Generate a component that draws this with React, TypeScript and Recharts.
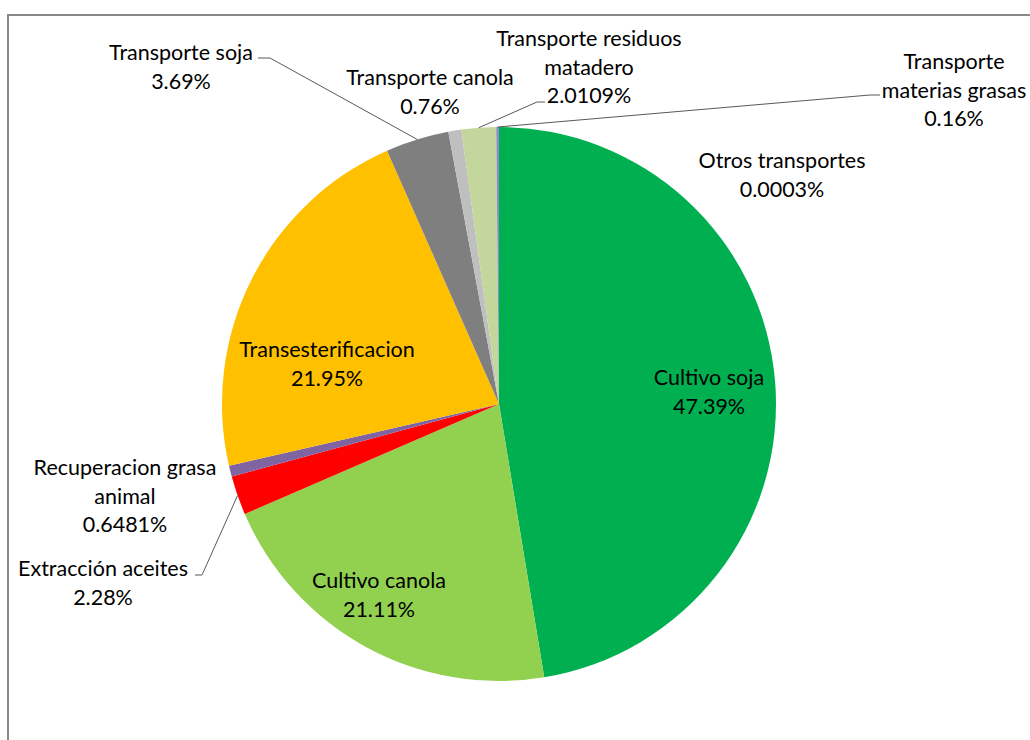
import { PieChart, Pie, Cell } from "recharts";

// slice names, clockwise from 12 o'clock
const names = [
  "Cultivo soja",
  "Cultivo canola",
  "Extracción aceites",
  "Recuperacion grasa animal",
  "Transesterificacion",
  "Transporte soja",
  "Transporte canola",
  "Transporte residuos matadero",
  "Transporte materias grasas",
  "Otros transportes",
];
const shares = [47.39, 21.11, 2.28, 0.6481, 21.95, 3.69, 0.76, 2.0109, 0.16, 0.0003];
const shareLabels = [
  "47.39%",
  "21.11%",
  "2.28%",
  "0.6481%",
  "21.95%",
  "3.69%",
  "0.76%",
  "2.0109%",
  "0.16%",
  "0.0003%",
];
// how each name is broken over lines in the label
const nameLines = [
  ["Cultivo soja"],
  ["Cultivo canola"],
  ["Extracción aceites"],
  ["Recuperacion grasa", "animal"],
  ["Transesterificacion"],
  ["Transporte soja"],
  ["Transporte canola"],
  ["Transporte residuos", "matadero"],
  ["Transporte", "materias grasas"],
  ["Otros transportes"],
];

const colors = [
  "#00B050",
  "#92D050",
  "#FF0000",
  "#8064A2",
  "#FFC000",
  "#7F7F7F",
  "#BFBFBF",
  "#C3D69B",
  "#8E8CC8",
  "#4F81BD",
];

const data = names.map((name, i) => ({
  name,
  value: shares[i],
  pct: shareLabels[i],
  lines: nameLines[i],
}));

// label placement relative to pie centre: text centre x, first line y, optional leader elbow
const placement: Record<
  string,
  { x: number; y: number; elbow?: [number, number, number] }
> = {
  "Cultivo soja": { x: 210, y: -27 },
  "Cultivo canola": { x: -120, y: 176 },
  "Extracción aceites": { x: -396, y: 164, elbow: [-297, -304, 171] },
  "Recuperacion grasa animal": { x: -374, y: 63 },
  Transesterificacion: { x: -172, y: -55 },
  "Transporte soja": { x: -318, y: -352, elbow: [-229, -241, -346] },
  "Transporte canola": { x: -69, y: -327 },
  "Transporte residuos matadero": { x: 90, y: -366, elbow: [38, 46, -302] },
  "Transporte materias grasas": { x: 455, y: -343, elbow: [371, 381, -309] },
  "Otros transportes": { x: 283, y: -244 },
};

const LINE_H = 28.5;
const RAD = Math.PI / 180;

const renderLabel = (props: any) => {
  const { cx, cy, midAngle, outerRadius, index } = props;
  const d = data[index];
  const p = placement[d.name];
  const rows = [...d.lines, d.pct];
  let leader = null;
  if (p.elbow) {
    const sx = cx + outerRadius * Math.cos(-midAngle * RAD);
    const sy = cy + outerRadius * Math.sin(-midAngle * RAD);
    const [ex1, ex2, ey] = p.elbow;
    leader = (
      <polyline
        points={`${sx},${sy} ${cx + ex1},${cy + ey} ${cx + ex2},${cy + ey}`}
        fill="none"
        stroke="#595959"
        strokeWidth={1}
      />
    );
  }
  return (
    <g key={`lbl-${index}`}>
      {leader}
      {rows.map((t, k) => (
        <text
          key={k}
          x={cx + p.x}
          y={cy + p.y + k * LINE_H}
          textAnchor="middle"
          dominantBaseline="central"
          fill="#000"
          fontSize={21.5}
          fontFamily="Lato, 'Liberation Sans', sans-serif"
        >
          {t}
        </text>
      ))}
    </g>
  );
};

export default function App() {
  return (
    <div
      style={{
        position: "absolute",
        left: 0,
        top: 0,
        width: 1030,
        height: 740,
        overflow: "hidden",
        background: "#fff",
      }}
    >
      <div
        style={{
          position: "absolute",
          left: 7,
          top: 14,
          width: 1100,
          height: 800,
          borderLeft: "2px solid #898989",
          borderTop: "2px solid #898989",
        }}
      />
      <div style={{ position: "absolute", left: 0, top: 0 }}>
        <PieChart
          width={1030}
          height={740}
          margin={{ top: 0, right: 0, bottom: 0, left: 0 }}
        >
          <Pie
            data={data}
            dataKey="value"
            nameKey="name"
            cx={499}
            cy={404}
            outerRadius={277}
            startAngle={90}
            endAngle={-270}
            stroke="none"
            label={renderLabel}
            labelLine={false}
            isAnimationActive={false}
          >
            {data.map((d, i) => (
              <Cell key={d.name} fill={colors[i]} />
            ))}
          </Pie>
        </PieChart>
      </div>
    </div>
  );
}
